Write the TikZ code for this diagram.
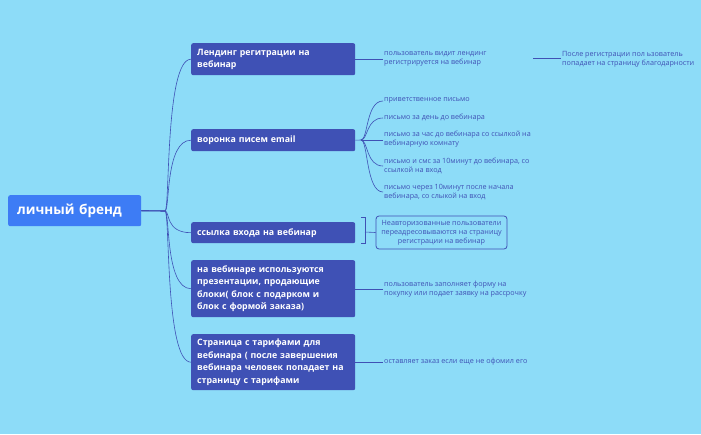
\documentclass[tikz,border=0pt]{standalone}
\usepackage{fontspec}
\setmainfont{Open Sans}
\begin{document}
\begin{tikzpicture}[x=1pt,y=-1pt,
  l1/.style={fill=lb,rounded corners=2pt,text=white,font=\bfseries\fontsize{8.8}{12.5}\selectfont,align=left,anchor=north west,minimum width=164pt,text width=152pt,inner xsep=6pt},
  lf/.style={text=lb,font=\fontsize{7.2}{9}\selectfont,align=left,anchor=west,inner sep=1pt},
  ln/.style={draw=lb,line width=0.6pt}]
\definecolor{bg}{HTML}{8DDCF8}
\definecolor{lb}{HTML}{3F51B5}
\definecolor{rb}{HTML}{3D7CF5}
\fill[bg] (0,0) rectangle (701,434);
\useasboundingbox (0,0) rectangle (701,434);
\node[fill=rb,rounded corners=2pt,text=white,font=\bfseries\fontsize{13.5}{15}\selectfont,minimum width=133pt,minimum height=31pt,anchor=north west,align=left,text width=115pt,inner xsep=9pt] (root) at (8,195) {личный бренд};
\node[l1,minimum height=32pt] (a) at (191,43) {Лендинг регитрации на\\вебинар};
\node[l1,minimum height=22pt] (b) at (191,129) {воронка писем email};
\node[l1,minimum height=21pt] (c) at (191,222) {ссылка входа на вебинар};
\node[l1,minimum height=57pt] (d) at (191,260) {на вебинаре используются\\презентации, продающие\\блоки( блок с подарком и\\блок с формой заказа)};
\node[l1,minimum height=56pt] (e) at (191,334) {Страница с тарифами для\\вебинара ( после завершения\\вебинара человек попадает на\\страницу с тарифами};
\foreach \n in {a,b,c,d,e}
  \draw[ln] (root.east) -- (165,211) .. controls (170,211) and (165,0|-\n.west) .. (\n.west);
\node[lf] (a1) at (383,59) {пользователь видит лендинг\\регистрируется на вебинар};
\draw[ln] (a.east|-a1.west) -- (a1.west);
\node[lf] (a2) at (561,59) {После регистрации пол ьзователь\\попадает на страницу благодарности};
\coordinate (a2s) at (533,58);
\draw[ln] (a2s) -- (a2.west|-a2s);
\coordinate (bf) at (361,140);
\draw[ln] (b.east) -- (bf);
\node[lf] (b1) at (383,100) {приветственное письмо};
\node[lf] (b2) at (383,117.5) {письмо за день до вебинара};
\node[lf] (b3) at (383,139) {письмо за час до вебинара со ссылкой на\\вебинарную комнату};
\node[lf] (b4) at (383,165.5) {письмо и смс за 10минут до вебинара, со\\ссылкой на вход};
\node[lf] (b5) at (383,192) {письмо через 10минут после начала\\вебинара, со слыкой на вход};
\draw[ln] (bf) .. controls (368,140) and (366,101) .. (b1.west|-0,101);
\draw[ln] (bf) .. controls (368,140) and (366,118) .. (b2.west|-0,118);
\draw[ln] (bf) -- (b3.west|-bf);
\draw[ln] (bf) .. controls (368,140) and (366,166) .. (383,166);
\draw[ln] (bf) .. controls (368,140) and (366,192) .. (383,192);
\node[draw=lb,line width=0.8pt,rounded corners=3pt,text=lb,font=\fontsize{7.2}{9}\selectfont,align=center,minimum width=131pt,minimum height=33pt,inner xsep=2pt] (c1) at (441.5,232.5) {Неавторизованные пользователи\\переадресовываются на страницу\\регистрации на вебинар};
\draw[ln] (361,217) -- (365,217) -- (365,243) -- (361,243);
\draw[ln] (365,232) -- (c1.west);
\node[lf] (d1) at (383,289) {пользователь заполняет форму на\\покупку или подает заявку на рассрочку};
\draw[ln] (d.east|-d1.west) -- (d1.west);
\node[lf] (e1) at (383,362) {оставляет заказ если еще не офомил его};
\draw[ln] (e.east|-e1.west) -- (e1.west);
\end{tikzpicture}
\end{document}
